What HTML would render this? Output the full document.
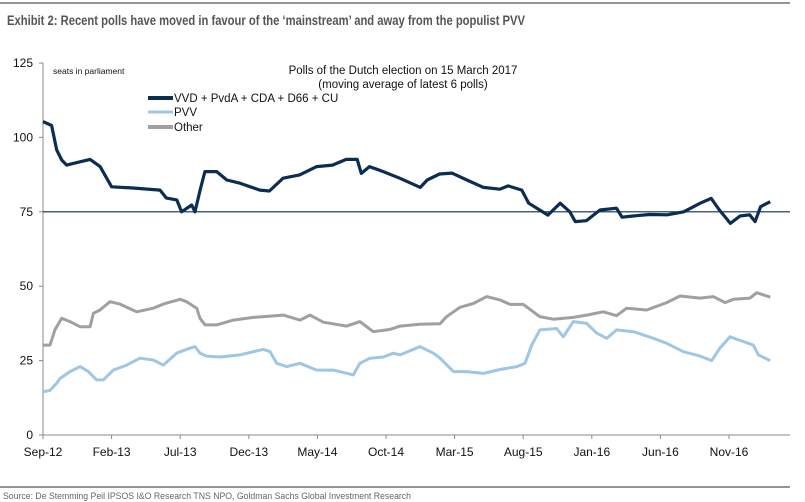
<!DOCTYPE html>
<html><head><meta charset="utf-8"><style>
body{margin:0;background:#fff}
svg{display:block;font-family:"Liberation Sans",sans-serif}
</style></head><body>
<svg id="chart" width="805" height="502" viewBox="0 0 805 502">
<line x1="0" y1="3" x2="790" y2="3" stroke="#555" stroke-width="1.2"/>
<text x="7" y="25" font-family="'Liberation Sans Narrow','Liberation Sans',sans-serif" font-weight="bold" font-size="13.5" fill="#555" textLength="518" lengthAdjust="spacingAndGlyphs">Exhibit 2: Recent polls have moved in favour of the ‘mainstream’ and away from the populist PVV</text>
<text x="403" y="74" font-size="11.5" text-anchor="middle" fill="#111">Polls of the Dutch election on 15 March 2017</text>
<text x="403" y="88" font-size="11.5" text-anchor="middle" fill="#111">(moving average of latest  6 polls)</text>
<text x="53" y="74" font-size="8.5" fill="#111">seats in parliament</text>
<g id="legend">
<g><line x1="148" y1="98" x2="173" y2="98" stroke="#0b2d52" stroke-width="4"/><text x="174" y="102" font-size="11.5" fill="#111">VVD + PvdA + CDA + D66 + CU</text></g>
<g><line x1="148" y1="112" x2="173" y2="112" stroke="#9fc6e4" stroke-width="3"/><text x="174" y="116" font-size="11.5" fill="#111">PVV</text></g>
<g><line x1="148" y1="127" x2="173" y2="127" stroke="#a0a0a0" stroke-width="4"/><text x="174" y="131" font-size="11.5" fill="#111">Other</text></g>
</g>
<g id="axes"></g>
<g id="series"></g>
<line x1="0" y1="487" x2="790" y2="487" stroke="#555" stroke-width="1.2"/>
<text x="3" y="499" font-family="'Liberation Sans Narrow','Liberation Sans',sans-serif" font-size="9.5" fill="#666" textLength="408" lengthAdjust="spacingAndGlyphs">Source: De Stemming Peil IPSOS I&amp;O Research TNS NPO, Goldman Sachs Global Investment Research</text>
</svg>
<script>
// data (months since Sep-12, seats)
const xTickLabels = ["Sep-12","Feb-13","Jul-13","Dec-13","May-14","Oct-14","Mar-15","Aug-15","Jan-16","Jun-16","Nov-16"];
const yTicks = [0,25,50,75,100,125];
const mainMonths = [0,0.63,1.0,1.36,1.73,2.7,3.43,4.16,5.0,6.56,8.53,9.0,9.75,10.1,10.84,11.08,11.45,11.8,12.66,13.4,14.36,15.8,16.5,17.5,18.7,19.95,21.1,22.1,22.9,23.2,23.8,24.8,26.0,27.5,28.0,28.9,29.8,30.9,32.1,33.3,33.9,34.9,35.4,36.2,36.8,37.7,38.4,38.8,39.6,40.6,41.8,42.2,43.0,44.2,45.5,46.7,47.9,48.7,49.3,50.1,50.8,51.5,51.9,52.3,53.0];
const mainValues = [105.3,104,95.8,92.4,90.7,91.8,92.6,90.2,83.4,83,82.3,79.6,79,75,77.3,75,82.3,88.5,88.5,85.7,84.6,82.3,82,86.3,87.4,90.2,90.7,92.6,92.6,87.9,90.2,88.5,86.3,83.2,85.7,87.7,88,85.7,83.2,82.6,83.7,82.3,77.9,75.6,73.9,77.9,75,71.7,72,75.6,76.2,73.2,73.6,74.1,74,75,77.9,79.5,75.6,71.1,73.6,74,71.7,76.7,78.4];
const otherMonths = [0,0.51,0.87,1.36,1.97,2.7,3.43,3.67,4.15,4.88,5.61,6.83,8.04,8.77,9.99,10.47,11.2,11.44,11.81,12.66,13.87,15.33,17.51,18.73,19.46,20.43,22.14,23.1,24.07,25.29,26.02,27.48,28.94,29.42,30.39,31.36,32.34,33.31,34.04,35.01,36.2,37.19,38.65,39.63,40.84,41.81,42.54,44.0,45.46,46.43,47.89,48.86,49.71,50.31,51.53,52.02,53.0];
const otherValues = [30.2,30.2,35.3,39.2,38.1,36.4,36.4,40.9,42,44.8,44,41.4,42.6,44,45.6,44.8,42.6,39.2,37,37,38.6,39.5,40.3,38.6,40.3,37.9,36.6,38.1,34.7,35.5,36.6,37.2,37.4,39.8,42.9,44.2,46.5,45.4,43.9,43.9,39.8,38.9,39.5,40.3,41.4,40.1,42.6,42,44.5,46.7,46,46.5,44.5,45.6,46,47.8,46.3];
const pvvMonths = [0,0.51,1.02,1.24,1.97,2.7,3.31,3.91,4.4,5.12,6.1,7.07,8.04,8.77,9.74,10.47,11.08,11.44,11.93,12.9,14.36,16.06,16.55,17.03,17.76,18.73,19.95,21.16,22.62,23.1,23.83,24.8,25.53,26.02,27.48,28.45,28.94,29.91,30.88,32.09,33.31,34.53,35.13,35.62,36.22,37.44,37.92,38.65,39.63,40.36,41.09,41.81,43.03,44.49,45.46,46.67,47.89,48.74,49.34,50.07,50.8,51.77,52.14,53.0];
const pvvValues = [14.5,15,17.5,19,21.3,23,21.3,18.5,18.5,21.8,23.5,25.8,25.2,23.5,27.5,28.8,29.7,27.5,26.5,26.2,26.9,28.8,28,24.1,23,24.1,21.8,21.8,20.2,24.1,25.8,26.2,27.5,26.9,29.7,27.5,25.8,21.3,21.3,20.7,22,23,24.1,30.2,35.3,35.8,33,38.1,37.5,34.2,32.5,35.3,34.7,32.5,30.8,28,26.5,25,29.2,33,31.8,30.2,26.9,25];

const NS="http://www.w3.org/2000/svg";
const x0=43, pxPerMonth=13.72, yBase=435, pxPerSeat=2.976;
function xScale(m){return x0+m*pxPerMonth;}
function yScale(v){return yBase-v*pxPerSeat;}
function mk(tag,attrs,parent){const e=document.createElementNS(NS,tag);for(const k in attrs)e.setAttribute(k,attrs[k]);parent.appendChild(e);return e;}
const axes=document.getElementById('axes');
const yAxis=mk('line',{x1:x0,y1:yScale(125),x2:x0,y2:yBase,stroke:'#888','stroke-width':1},axes);


const xAxis=mk('line',{x1:x0,y1:yBase,x2:790,y2:yBase,stroke:'#888','stroke-width':1},axes);


yTicks.forEach(v=>{
  const y=yScale(v);
  mk('line',{x1:x0-4,y1:y,x2:x0,y2:y,stroke:'#888'},axes);
  const t=mk('text',{x:x0-10,y:y+4,'font-size':12,'text-anchor':'end',fill:'#111'},axes);
  t.textContent=v;
  
  
});
xTickLabels.forEach((lab,i)=>{
  const x=xScale(i*5);
  mk('line',{x1:x,y1:yBase,x2:x,y2:yBase+4,stroke:'#888'},axes);
  const t=mk('text',{x:x,y:yBase+21,'font-size':12,'text-anchor':'middle',fill:'#111'},axes);
  t.textContent=lab;
  
  
});
const ref=mk('line',{x1:x0,y1:yScale(75),x2:790,y2:yScale(75),stroke:'#0b2d52','stroke-width':1.2},axes);


const series=document.getElementById('series');
function drawLine(ms,vs,color,w,name){
  const d=ms.map((m,i)=>(i?'L':'M')+xScale(m).toFixed(1)+','+yScale(vs[i]).toFixed(1)).join(' ');
  const p=mk('path',{d:d,fill:'none',stroke:color,'stroke-width':w,'stroke-linejoin':'round'},series);
  
  
}
drawLine(pvvMonths,pvvValues,'#9fc6e4',3,'pvv-line');
drawLine(otherMonths,otherValues,'#a0a0a0',3,'other-line');
drawLine(mainMonths,mainValues,'#0b2d52',3.2,'mainstream-line');
</script>
</body></html>
